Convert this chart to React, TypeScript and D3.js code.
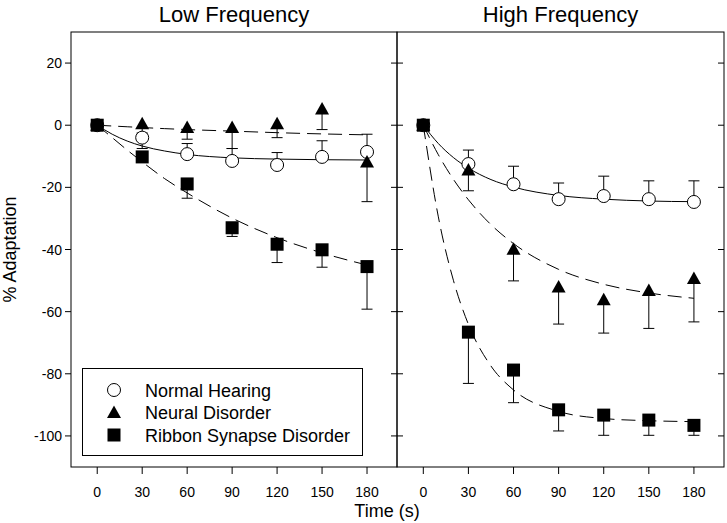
import React from "react";
import * as d3 from "d3";

// ---- data ----
const times = [0, 30, 60, 90, 120, 150, 180];
const xTicks = [0, 30, 60, 90, 120, 150, 180];
const yTicks = [20, 0, -20, -40, -60, -80, -100];
const panelTitles = ["Low Frequency", "High Frequency"];
const seriesNames = ["Normal Hearing", "Neural Disorder", "Ribbon Synapse Disorder"];

// Low frequency
const lowNormal = [0, -4.0, -9.3, -11.5, -12.8, -10.2, -8.6];
const lowNormalErr = [0, 1.5, 3.4, 4.0, 4.0, 5.2, 5.7];
const lowNeural = [0, 0.5, -0.7, -0.7, 0.5, 5.2, -11.8];
const lowNeuralErr = [0, 8.0, 3.8, 6.8, 4.5, 6.6, 12.8];
const lowRibbon = [0, -10.2, -18.9, -33.0, -38.3, -40.1, -45.5];
const lowRibbonErr = [0, 1.5, 4.6, 2.8, 5.9, 5.6, 13.7];

// High frequency
const highNormal = [0, -12.5, -19.0, -23.8, -22.8, -23.8, -24.7];
const highNormalErr = [0, 4.5, 5.8, 5.2, 6.4, 5.9, 6.8];
const highNeural = [0, -14.4, -39.9, -52.1, -56.2, -53.2, -49.3];
const highNeuralErr = [0, 6.7, 10.2, 11.9, 10.7, 12.2, 14.0];
const highRibbon = [0, -66.6, -78.8, -91.6, -93.3, -94.9, -96.6];
const highRibbonErr = [0, 16.5, 10.5, 6.8, 6.5, 4.9, 3.2];

// fitted curves
const fitTimes = [0, 10, 20, 30, 45, 60, 90, 120, 150, 180];
const lowNormalFit = [0, -2.9, -5.1, -6.7, -8.3, -9.4, -10.5, -10.9, -11.1, -11.2];
const lowNeuralFit = [0, -0.25, -0.5, -0.75, -1.1, -1.4, -1.9, -2.4, -2.8, -3.1];
const lowRibbonFit = [0, -4.0, -8.0, -11.8, -17.2, -21.8, -29.9, -36.2, -41.1, -45.0];
const highNormalFit = [0, -5.9, -10.4, -13.8, -17.5, -19.9, -22.6, -23.8, -24.4, -24.6];
const highNeuralFit = [0, -9.5, -17.4, -24.0, -32.0, -38.1, -46.4, -51.2, -54.0, -55.7];
const highRibbonFit = [0, -29.5, -49.9, -64.1, -77.5, -85.2, -92.1, -94.4, -95.1, -95.4];

// ---- layout ----
const W = 727;
const H = 523;
const top = 32;
const bottom = 467;
const panelX = [
  [71, 397],
  [397, 724],
];
const FONT = "'Liberation Sans', Arial, Helvetica, sans-serif";

const y = d3.scaleLinear().domain([30, -110]).range([top, bottom]);

type Series = {
  kind: "circle" | "triangle" | "square";
  vals: number[];
  errs: number[];
  dir: number;
  fit: number[];
  dash: string | undefined;
};

const panels: Series[][] = [
  [
    { kind: "circle", vals: lowNormal, errs: lowNormalErr, dir: 1, fit: lowNormalFit, dash: undefined },
    { kind: "triangle", vals: lowNeural, errs: lowNeuralErr, dir: -1, fit: lowNeuralFit, dash: "14,7" },
    { kind: "square", vals: lowRibbon, errs: lowRibbonErr, dir: -1, fit: lowRibbonFit, dash: "14,7" },
  ],
  [
    { kind: "circle", vals: highNormal, errs: highNormalErr, dir: 1, fit: highNormalFit, dash: undefined },
    { kind: "triangle", vals: highNeural, errs: highNeuralErr, dir: -1, fit: highNeuralFit, dash: "14,7" },
    { kind: "square", vals: highRibbon, errs: highRibbonErr, dir: -1, fit: highRibbonFit, dash: "14,7" },
  ],
];

function Marker({ kind, cx, cy }: { kind: string; cx: number; cy: number }) {
  if (kind === "circle")
    return <circle cx={cx} cy={cy} r={6.5} fill="#fff" stroke="#000" strokeWidth={1} />;
  if (kind === "square")
    return <rect x={cx - 6.5} y={cy - 6.5} width={13} height={13} fill="#000" />;
  const pts = `${cx},${cy - 7} ${cx + 7},${cy + 5.5} ${cx - 7},${cy + 5.5}`;
  return <polygon points={pts} fill="#000" />;
}

export default function App() {
  return (
    <svg
      width={W}
      height={H}
      style={{ position: "absolute", left: 0, top: 0, display: "block", background: "#fff" }}
      fontFamily={FONT}
    >
      <rect x={0} y={0} width={W} height={H} fill="#fff" />
      {panels.map((series, pi) => {
        const [x0, x1] = panelX[pi];
        const x = d3.scaleLinear().domain([-17.5, 200]).range([x0, x1]);
        const line = d3
          .line<number>()
          .x((_, i) => x(fitTimes[i]))
          .y((d) => y(d))
          .curve(d3.curveMonotoneX);
        return (
          <g key={pi}>
            {/* title */}
            <text x={(x0 + x1) / 2} y={22} textAnchor="middle" fontSize={22} fill="#000">
              {panelTitles[pi]}
            </text>
            {/* frame */}
            <rect x={x0} y={top} width={x1 - x0} height={bottom - top} fill="none" stroke="#000" strokeWidth={1} />
            {/* y ticks */}
            {yTicks.map((t) => (
              <g key={t}>
                {pi === 0 ? (
                  <line x1={x0 - 6} x2={x0} y1={y(t)} y2={y(t)} stroke="#000" />
                ) : (
                  <line x1={x0} x2={x0 + 6} y1={y(t)} y2={y(t)} stroke="#000" />
                )}
                <line x1={x1 - 6} x2={x1} y1={y(t)} y2={y(t)} stroke="#000" />
                {pi === 0 && (
                  <text x={62} y={y(t) + 5} textAnchor="end" fontSize={14} fill="#000">
                    {t}
                  </text>
                )}
              </g>
            ))}
            {/* x ticks */}
            {xTicks.map((t) => (
              <g key={t}>
                <line x1={x(t)} x2={x(t)} y1={bottom} y2={bottom + 7} stroke="#000" />
                <text x={x(t)} y={497} textAnchor="middle" fontSize={14} fill="#000">
                  {t}
                </text>
              </g>
            ))}
            {/* fit curves */}
            {series.map((s, si) => (
              <path
                key={"f" + si}
                d={line(s.fit) || ""}
                fill="none"
                stroke="#000"
                strokeWidth={1}
                strokeDasharray={s.dash}
              />
            ))}
            {/* error bars */}
            {series.map((s, si) =>
              s.vals.map((v, i) => {
                if (!s.errs[i]) return null;
                const cx = x(times[i]);
                const end = y(v + s.dir * s.errs[i]);
                return (
                  <g key={"e" + si + "-" + i}>
                    <line x1={cx} x2={cx} y1={y(v)} y2={end} stroke="#000" />
                    <line x1={cx - 5.5} x2={cx + 5.5} y1={end} y2={end} stroke="#000" />
                  </g>
                );
              })
            )}
            {/* markers */}
            {series.map((s, si) =>
              s.vals.map((v, i) => (
                <Marker key={"m" + si + "-" + i} kind={s.kind} cx={x(times[i])} cy={y(v)} />
              ))
            )}
          </g>
        );
      })}
      {/* axis titles */}
      <text x={387} y={517} textAnchor="middle" fontSize={18} fill="#000">
        Time (s)
      </text>
      <text
        transform={`translate(16, ${(top + bottom) / 2}) rotate(-90)`}
        textAnchor="middle"
        fontSize={18}
        fill="#000"
      >
        % Adaptation
      </text>
      {/* legend */}
      <g>
        <rect x={82.5} y={368.5} width={280} height={87} fill="#fff" stroke="#000" strokeWidth={1} />
        {seriesNames.map((name, i) => {
          const ly = 390 + i * 22.5;
          const kind = panels[0][i].kind;
          return (
            <g key={name}>
              <Marker kind={kind} cx={114} cy={ly} />
              <text x={145} y={ly + 6.5} fontSize={18} fill="#000">
                {name}
              </text>
            </g>
          );
        })}
      </g>
    </svg>
  );
}
